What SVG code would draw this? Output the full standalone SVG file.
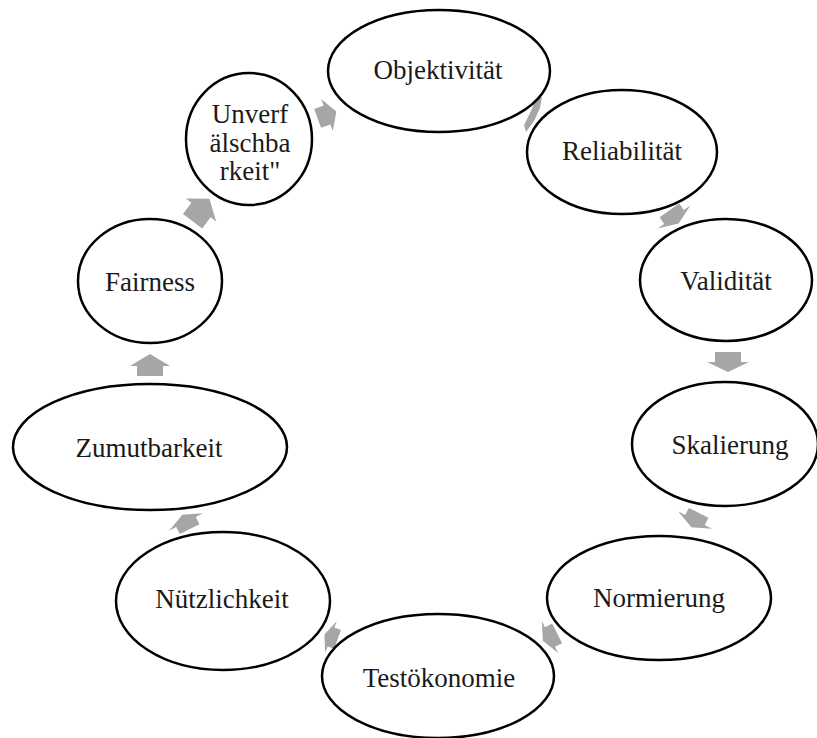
<svg xmlns="http://www.w3.org/2000/svg" width="817" height="738" viewBox="0 0 817 738">
<style>
.n{fill:#fff;stroke:#000;stroke-width:2.5}
.t{font-family:'Liberation Serif','Times New Roman','DejaVu Serif',serif;font-size:27px;fill:#1a1a1a;text-anchor:middle}
.a{fill:#A6A6A6}
</style>
<rect width="817" height="738" fill="#fff"/>
<g id="connectors">
<polygon class="a" points="-11,-13 -1,-13 -1,-20 11,0 -1,20 -1,13 -11,13" transform="translate(150,365) rotate(-90)"/>
<polygon class="a" points="-10,-13 0,-13 0,-21 10,0 0,21 0,13 -10,13" transform="translate(728,362) rotate(90)"/>
<polygon class="a" points="-14,-12 0,-12 0,-19 14,0 0,19 0,12 -14,12" transform="translate(201,210) rotate(-53)"/>
<polygon class="a" points="-10,-10 0,-10 0,-17 10,0 0,17 0,10 -10,10" transform="translate(327,115) rotate(-20)"/>
<polygon class="a" points="536,99 542,97 540,108 534,121 526,132 524,125 531,111"/>
<polygon class="a" points="-8,-12 0,-12 0,-20 8,0 0,20 0,12 -8,12" transform="translate(674,217) rotate(55)"/>
<polygon class="a" points="-8,-11 0,-11 0,-19 8,0 0,19 0,11 -8,11" transform="translate(695,520) rotate(117)"/>
<polygon class="a" points="-8,-11 0,-11 0,-18 8,0 0,18 0,11 -8,11" transform="translate(550,637) rotate(153)"/>
<polygon class="a" points="-7,-10 0,-10 0,-17 7,0 0,17 0,10 -7,10" transform="translate(331,637) rotate(-160)"/>
<polygon class="a" points="-8,-11 0,-11 0,-19 8,0 0,19 0,11 -8,11" transform="translate(186,522) rotate(-117)"/>
</g>
<g id="objektivitaet"><ellipse class="n" cx="439" cy="71" rx="111" ry="61"/><text class="t" x="438" y="79">Objektivität</text></g>
<g id="reliabilitaet"><ellipse class="n" cx="622" cy="152" rx="95" ry="62"/><text class="t" x="622" y="160">Reliabilität</text></g>
<g id="validitaet"><ellipse class="n" cx="726" cy="280" rx="86" ry="61"/><text class="t" x="726" y="290">Validität</text></g>
<g id="skalierung"><ellipse class="n" cx="725" cy="444" rx="93" ry="62"/><text class="t" x="730" y="454">Skalierung</text></g>
<g id="normierung"><ellipse class="n" cx="659" cy="598" rx="112" ry="62"/><text class="t" x="659" y="607">Normierung</text></g>
<g id="testoekonomie"><ellipse class="n" cx="438" cy="676" rx="116" ry="62"/><text class="t" x="439" y="687">Testökonomie</text></g>
<g id="nuetzlichkeit"><ellipse class="n" cx="223" cy="601" rx="107" ry="69"/><text class="t" x="222" y="608">Nützlichkeit</text></g>
<g id="zumutbarkeit"><ellipse class="n" cx="150" cy="447" rx="137" ry="63"/><text class="t" x="149" y="457">Zumutbarkeit</text></g>
<g id="fairness"><ellipse class="n" cx="150" cy="281" rx="72" ry="62"/><text class="t" x="150" y="291">Fairness</text></g>
<g id="unverfaelschbarkeit"><ellipse class="n" cx="249" cy="139" rx="63" ry="66"/><text class="t" x="250" y="123">Unverf</text><text class="t" x="250" y="152">älschba</text><text class="t" x="250" y="180">rkeit"</text></g>
</svg>
